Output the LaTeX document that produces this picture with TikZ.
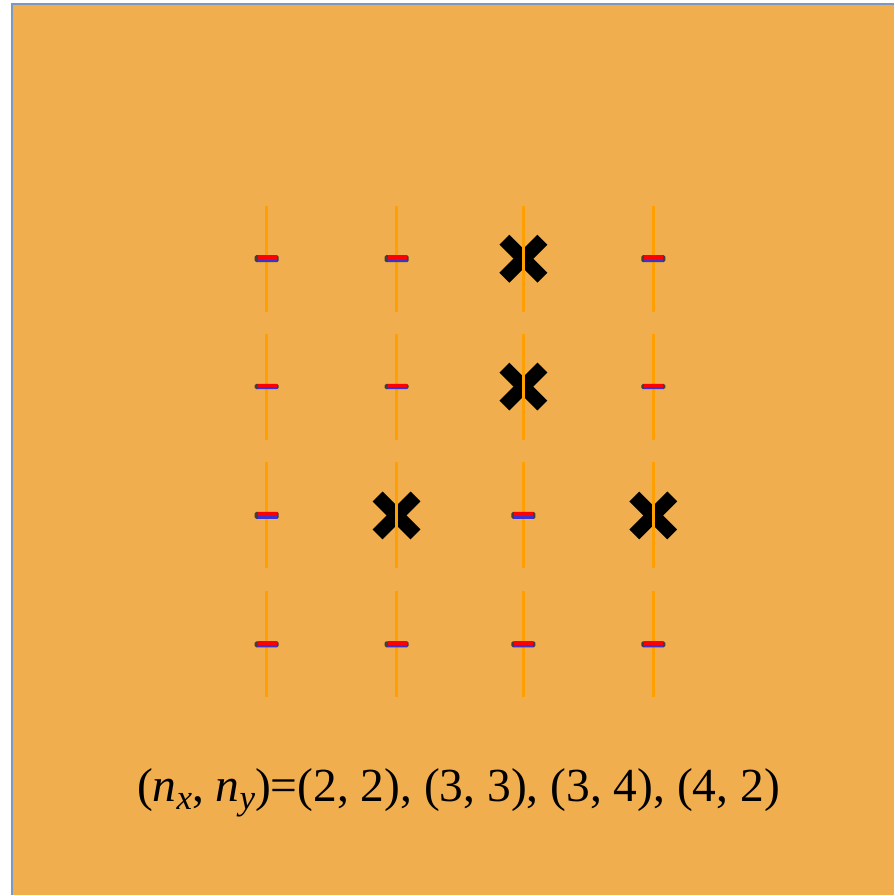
\documentclass[tikz,border=0pt]{standalone}
\usepackage{fontspec}
\setmainfont{Liberation Serif}
\definecolor{panel}{RGB}{240,174,78}
\definecolor{frame}{RGB}{122,152,192}
\definecolor{wire}{RGB}{255,160,0}
\definecolor{barblue}{RGB}{60,50,210}
\tikzset{
  wire/.style={draw=wire, line width=3pt},
  cross/.style={draw=black, line width=14pt},
}
\newcommand\subidx[1]{\raisebox{-8pt}{\fontsize{35}{40}\selectfont\textit{#1}}}
\begin{document}
\begin{tikzpicture}[x=1pt, y=-1pt]
  \fill[white] (0,0) rectangle (895,896);
  \fill[panel] (11,3) rectangle (895,896);
  \draw[frame, line width=2pt] (12,896) -- (12,4) -- (895,4);
  % blocked cells
  \foreach \x/\y in {524/259, 524/387, 397/516, 654/516} {
    \draw[cross] (\x-19,\y-19) -- (\x+19,\y+19);
    \draw[cross] (\x-19,\y+19) -- (\x+19,\y-19);
  }
  % wires
  \foreach \x in {267,397,524,654} \foreach \y in {259,387,516,645}
    \draw[wire] (\x,\y-53) -- (\x,\y+53);
  % bars
  \foreach \x/\y/\h in {267/259/3.5, 397/259/3.5, 654/259/3.5,
      267/387/2.6, 397/387/2.6, 654/387/2.6,
      267/516/3.5, 524/516/3.5,
      267/645/3, 397/645/3, 524/645/3, 654/645/3} {
    \fill[black!75, rounded corners=1.5pt] (\x-12,\y-\h) rectangle (\x+12,\y+\h);
    \fill[red] (\x-9,\y-\h) rectangle (\x+10,\y+0.3*\h);
    \fill[barblue] (\x-9,\y+0.3*\h) rectangle (\x+10,\y+\h);
  }
  \node[font=\fontsize{47.5}{54}\selectfont, anchor=base, inner sep=0pt] (label) at (459,802)
    {(\textit{n}\subidx{x}, \textit{n}\subidx{y})=(2, 2), (3, 3), (3, 4), (4, 2)};
\end{tikzpicture}
\end{document}
